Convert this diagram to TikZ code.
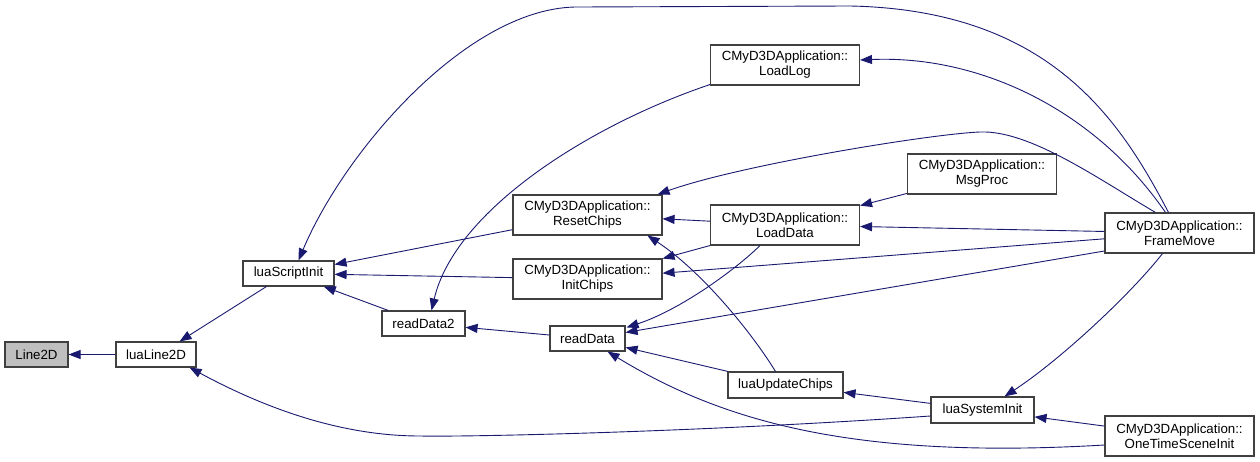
\documentclass[tikz,border=0pt]{standalone}
\usepackage{fontspec}
\setmainfont{Liberation Sans}
\usetikzlibrary{arrows.meta,calc}
\definecolor{edgecol}{HTML}{191970}
\definecolor{bordercol}{HTML}{404040}
\definecolor{grayfill}{HTML}{BFBFBF}
\tikzset{
  fn/.style={draw=bordercol, line width=1.1pt, fill=white, inner sep=0pt, align=center,
    font=\fontsize{13.3}{15}\selectfont, minimum height=25pt},
  fn2/.style={fn, minimum height=40pt, minimum width=149pt},
  edge/.style={draw=edgecol, line width=0.9pt, -{Triangle[length=12pt,width=9pt]}, fill=none}
}
\begin{document}
\begin{tikzpicture}[x=1pt,y=-1pt]
\useasboundingbox (0,0) rectangle (1260,462);
% nodes
\node[fn, fill=grayfill, minimum width=63pt] (l2d) at (36.5,354.5) {Line2D};
\node[fn, minimum width=80pt] (ll2d) at (156,354.5) {luaLine2D};
\node[fn, minimum width=91pt] (lsi) at (288.5,273.5) {luaScriptInit};
\node[fn, minimum width=83pt] (rd2) at (423.5,323.5) {readData2};
\node[fn2] (rc) at (587.5,215) {CMyD3DApplication::\\ResetChips};
\node[fn2] (ic) at (587.5,279) {CMyD3DApplication::\\InitChips};
\node[fn, minimum width=75pt] (rd) at (587.5,338.5) {readData};
\node[fn2] (lg) at (785,65) {CMyD3DApplication::\\LoadLog};
\node[fn2] (ld) at (785,225) {CMyD3DApplication::\\LoadData};
\node[fn2] (mp) at (982,174) {CMyD3DApplication::\\MsgProc};
\node[fn, minimum width=115pt, minimum height=26pt] (uc) at (785.5,385) {luaUpdateChips};
\node[fn2] (fm) at (1179.5,233) {CMyD3DApplication::\\FrameMove};
\node[fn, minimum width=103pt, minimum height=26pt] (lsys) at (982.5,410) {luaSystemInit};
\node[fn2] (ots) at (1179.5,436) {CMyD3DApplication::\\OneTimeSceneInit};
% straight edges
\draw[edge] (ll2d) -- (l2d);
\draw[edge] ($(lsi.south west)+(24,0)$) -- ($(ll2d.north east)+(-17,0)$);
\draw[edge] (rc) -- (lsi);
\draw[edge] (ic) -- (lsi);
\draw[edge] (rd2) -- (lsi);
\draw[edge] (rd) -- (rd2);
\draw[edge] (ld) -- (rc);
\draw[edge] (ld) -- (ic);
\draw[edge] (fm) -- (ic);
\draw[edge] ($(fm.west)+(0,18)$) -- ($(rd.east)+(0,-6)$);
\draw[edge] (uc) -- (rd);
\draw[edge] (lsys) -- (uc);
\draw[edge] (ots) -- (lsys);
\draw[edge] (mp) -- (ld);
\draw[edge] (fm) -- (ld);
% curved edges
\draw[edge] ($(ld.south)+(-25,0)$) .. controls (735,270) and (680,310) .. ($(rd.north east)+(1,2)$);
\draw[edge] ($(ots.west)+(0,9)$) .. controls (850,460) and (720,420) .. ($(rd.south)+(20,0)$);
\draw[edge] ($(lsys.west)+(0,6)$) .. controls (700,432) and (470,437) .. (420,436)
   .. controls (330,436) and (250,400) .. ($(ll2d.south east)+(-7,0)$);
\draw[edge] ($(fm.south)+(-17,0)$) .. controls (1130,295) and (1060,360) .. ($(lsys.north)+(22,0)$);
\draw[edge] ($(fm.north)+(-14,0)$) .. controls (1095,110) and (980,55) .. ($(lg.east)+(0,-5)$);
\draw[edge] ($(fm.north)+(-11,0)$) .. controls (1120,120) and (1050,10) .. (850,6)
   -- (580,7) .. controls (470,5) and (345,150) .. ($(lsi.north)+(10,0)$);
\draw[edge] ($(fm.north)+(-24,0)$) .. controls (1100,180) and (1030,130) .. (980,132)
   .. controls (930,134) and (740,165) .. ($(rc.north east)+(-5,0)$);
\draw[edge] ($(uc.north)+(-10,0)$) .. controls (750,330) and (700,270) .. ($(rc.south)+(60,0)$);
\draw[edge] ($(lg.south west)+(0,-1)$) .. controls (590,125) and (455,210) .. ($(rd2.north)+(8,0)$);
\end{tikzpicture}
\end{document}
